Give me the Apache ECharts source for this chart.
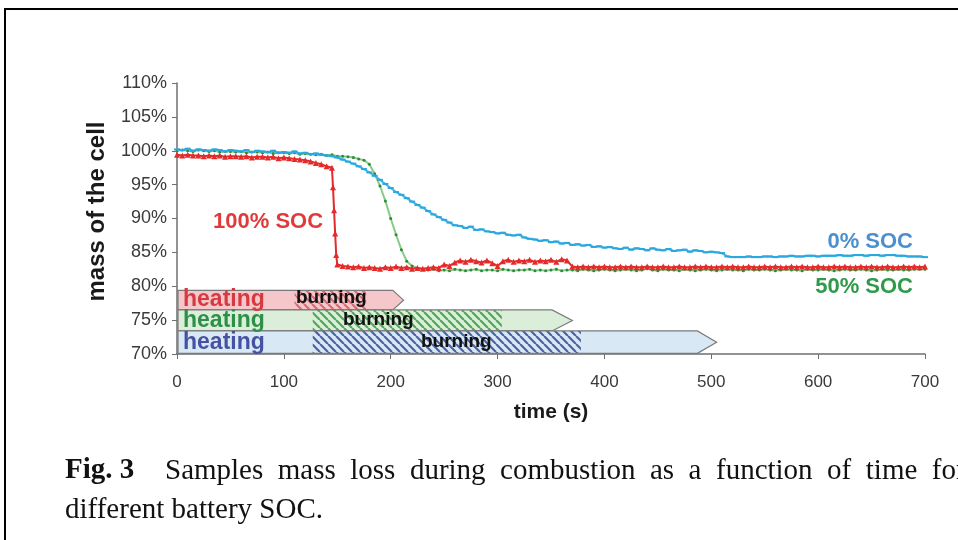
<!DOCTYPE html>
<html><head><meta charset="utf-8">
<script src="https://cdn.jsdelivr.net/npm/echarts@6/dist/echarts.min.js"></script>
<style>html,body{margin:0;padding:0;background:#fff}#c{width:958px;height:540px}</style>
</head><body><div id="c"></div>
<script>
// ---------- data ----------
const timeGrid = [0,5,10,15,20,25,30,35,40,45,50,55,60,65,70,75,80,85,90,95,
100,105,110,115,120,125,130,135,140,145,150,155,160,165,170,175,180,185,190,195,
200,205,210,215,220,225,230,235,240,245,250,255,260,265,270,275,280,285,290,295,
300,305,310,315,320,325,330,335,340,345,350,355,360,365,370,375,380,385,390,395,
400,405,410,415,420,425,430,435,440,445,450,455,460,465,470,475,480,485,490,495,
500,505,510,515,520,525,530,535,540,545,550,555,560,565,570,575,580,585,590,595,
600,605,610,615,620,625,630,635,640,645,650,655,660,665,670,675,680,685,690,695,700];

const soc0Mass = [100.2,100.1,100.3,100.0,100.2,100.1,100.0,100.2,100.1,99.9,
100.1,100.0,99.9,100.1,99.8,100.0,99.9,99.8,100.0,99.7,
99.8,99.7,99.9,99.6,99.7,99.5,99.6,99.4,99.3,99.2,
99.0,98.7,98.4,98.1,97.7,97.3,96.8,96.3,95.7,95.1,
94.5,93.9,93.5,93.0,92.5,92.0,91.6,91.1,90.6,90.2,
89.8,89.4,89.0,88.9,88.6,88.8,88.3,88.4,88.1,88.0,
87.8,87.9,87.6,87.5,87.6,87.2,87.0,86.9,86.7,86.8,
86.5,86.6,86.3,86.4,86.1,86.2,86.0,86.1,85.8,85.9,
85.7,85.8,85.6,85.5,85.7,85.4,85.6,85.5,85.3,85.6,
85.4,85.3,85.5,85.2,85.3,85.4,85.1,85.3,85.2,85.0,
85.1,85.0,84.9,84.4,84.3,84.3,84.3,84.4,84.3,84.3,
84.4,84.4,84.3,84.4,84.4,84.5,84.4,84.4,84.5,84.5,
84.4,84.5,84.5,84.5,84.6,84.5,84.5,84.6,84.6,84.5,
84.6,84.6,84.5,84.6,84.6,84.5,84.5,84.4,84.4,84.4,84.3];

const soc50Mass = [100.0,100.1,100.0,99.9,100.1,100.0,99.9,100.0,99.8,99.9,
99.9,99.8,99.9,99.7,99.8,99.8,99.7,99.8,99.6,99.7,
99.7,99.6,99.7,99.5,99.6,99.5,99.4,99.5,99.3,99.4,
99.2,99.2,99.1,99.0,98.8,98.6,98.0,96.6,94.8,92.6,
90.0,87.6,85.4,83.7,83.0,82.7,82.5,82.4,82.5,82.3,
82.4,82.3,82.5,82.4,82.3,82.4,82.5,82.3,82.4,82.4,
82.3,82.5,82.4,82.3,82.4,82.4,82.5,82.3,82.4,82.3,
82.4,82.5,82.3,82.4,82.4,82.3,82.5,82.4,82.3,82.4,
82.5,82.4,82.3,82.4,82.5,82.4,82.3,82.4,82.6,82.4,
82.3,82.5,82.4,82.4,82.3,82.5,82.4,82.3,82.4,82.5,
82.4,82.3,82.4,82.5,82.4,82.4,82.3,82.5,82.4,82.4,
82.5,82.4,82.3,82.4,82.5,82.4,82.4,82.3,82.5,82.4,
82.4,82.5,82.4,82.3,82.4,82.5,82.4,82.4,82.5,82.4,
82.3,82.4,82.5,82.4,82.4,82.5,82.4,82.4,82.5,82.5,82.5];

const soc100Time = [0,5,10,15,20,25,30,35,40,45,50,55,60,65,70,75,80,85,90,95,
100,105,110,115,120,125,130,135,140,145,146,147,148,149,
150,155,160,165,170,175,180,185,190,195,
200,205,210,215,220,225,230,235,240,245,250,255,260,265,270,275,280,285,290,295,
300,305,310,315,320,325,330,335,340,345,350,355,360,365,370,375,380,385,390,395,
400,405,410,415,420,425,430,435,440,445,450,455,460,465,470,475,480,485,490,495,
500,505,510,515,520,525,530,535,540,545,550,555,560,565,570,575,580,585,590,595,
600,605,610,615,620,625,630,635,640,645,650,655,660,665,670,675,680,685,690,695,700];

const soc100Mass = [99.4,99.3,99.4,99.3,99.3,99.2,99.3,99.2,99.3,99.1,
99.2,99.2,99.1,99.2,99.0,99.1,99.1,99.0,99.1,98.9,
99.0,98.9,98.8,98.7,98.6,98.4,98.2,98.0,97.7,97.5,
94.6,91.2,87.8,84.6,
83.2,83.0,82.9,82.8,82.9,82.7,82.8,82.7,82.6,82.8,
82.7,82.9,82.7,82.8,82.6,82.7,82.6,82.7,82.8,82.7,
83.2,83.0,83.5,83.8,83.6,83.9,83.7,83.5,83.8,83.4,
83.0,83.7,83.9,83.6,83.8,83.7,83.9,83.6,83.8,83.7,
83.9,83.6,84.0,83.8,82.9,82.8,82.9,82.8,82.9,82.8,
82.9,82.8,82.8,82.9,82.8,82.9,82.8,82.8,82.9,82.8,
82.8,82.9,82.8,82.8,82.9,82.8,82.8,82.9,82.8,82.9,
82.8,82.8,82.9,82.8,82.9,82.8,82.8,82.9,82.8,82.8,
82.9,82.8,82.9,82.8,82.8,82.9,82.8,82.9,82.8,82.8,
82.9,82.8,82.8,82.9,82.8,82.9,82.8,82.8,82.9,82.8,
82.9,82.8,82.8,82.9,82.8,82.8,82.9,82.8,82.9,82.8,82.9];

// heating / burning phase bars (one per SOC)
const phaseRows    = ['100% SOC', '50% SOC', '0% SOC'];
const phaseTop     = [79.4, 76.5, 73.4];
const phaseBottom  = [76.5, 73.4, 70.1];
const phaseEnd     = [202, 351, 487];
const phaseTip     = [212, 370, 505];
const burnStart    = [110, 127, 127];
const burnEnd      = [177, 304, 378];

// ---------- styles ----------
const rowFill  = ['#f6c7ca', '#dbeed9', '#d8e9f5'];
const rowHatch = ['#d86b75', '#4fa85a', '#4c62a3'];
function makeHatch(color) {
  const c = document.createElement('canvas');
  c.width = 8; c.height = 8;
  const g = c.getContext('2d');
  g.strokeStyle = color; g.lineWidth = 2.2;
  g.beginPath();
  [-8, 0, 8].forEach(function (x) { g.moveTo(x, 0); g.lineTo(x + 8, 8); });
  g.stroke();
  return c;
}
const hatchPatterns = rowHatch.map(function (c) { return { type: 'pattern', image: makeHatch(c), repeat: 'repeat' }; });

function zip(a, b) { return a.map(function (v, i) { return [v, b[i]]; }); }

const chart = echarts.init(document.getElementById('c'), null, { renderer: 'canvas' });
const SANS = 'Liberation Sans, Arial, sans-serif';
const SERIF = 'Liberation Serif, Times New Roman, serif';

chart.setOption({
  animation: false,
  backgroundColor: '#ffffff',
  grid: { left: 177, right: 33, top: 83, bottom: 186, containLabel: false },
  xAxis: {
    type: 'value', min: 0, max: 700, interval: 100,
    name: 'time (s)', nameLocation: 'middle', nameGap: 48,
    nameTextStyle: { fontFamily: SANS, fontWeight: 'bold', fontSize: 21, color: '#1a1a1a' },
    axisLine: { show: true, onZero: false, lineStyle: { color: '#6f6f6f', width: 1.5 } },
    axisTick: { show: true, length: 5, lineStyle: { color: '#6f6f6f' } },
    axisLabel: { fontFamily: SANS, fontSize: 17, color: '#3a3a3a', margin: 20 },
    splitLine: { show: false }
  },
  yAxis: {
    type: 'value', min: 70, max: 110, interval: 5,
    name: 'mass of the cell', nameLocation: 'middle', nameGap: 68,
    nameTextStyle: { fontFamily: SANS, fontWeight: 'bold', fontSize: 24, color: '#1a1a1a', padding: [0, 0, 0, 14] },
    axisLine: { show: true, lineStyle: { color: '#6f6f6f', width: 1.5 } },
    axisTick: { show: true, length: 5, lineStyle: { color: '#6f6f6f' } },
    axisLabel: { fontFamily: SANS, fontSize: 18, color: '#3a3a3a', margin: 10, formatter: '{value}%' },
    splitLine: { show: false }
  },
  series: [
    {
      type: 'custom', name: 'phases', coordinateSystem: 'cartesian2d', clip: false, z: 1,
      data: phaseRows.map(function (n, i) {
        return [phaseEnd[i], phaseTip[i], phaseTop[i], phaseBottom[i], burnStart[i], burnEnd[i], i];
      }),
      encode: { x: [0, 1], y: [2, 3] },
      renderItem: function (params, api) {
        const i = api.value(6);
        const top = api.value(2), bot = api.value(3), mid = (top + bot) / 2;
        const p0t = api.coord([0, top]), p0b = api.coord([0, bot]);
        const pet = api.coord([api.value(0), top]), peb = api.coord([api.value(0), bot]);
        const ptip = api.coord([api.value(1), mid]);
        const bs = api.coord([api.value(4), top]), be = api.coord([api.value(5), bot]);
        const pts = [[p0t[0] + 1, p0t[1]], pet, ptip, peb, [p0b[0] + 1, p0b[1]]];
        return {
          type: 'group',
          children: [
            { type: 'polygon', shape: { points: pts }, style: { fill: rowFill[i], stroke: null } },
            { type: 'rect', shape: { x: bs[0], y: bs[1], width: be[0] - bs[0], height: be[1] - bs[1] },
              style: { fill: hatchPatterns[i] } },
            { type: 'polygon', shape: { points: pts }, style: { fill: null, stroke: '#7a7a7a', lineWidth: 1.2 } }
          ]
        };
      }
    },
    {
      type: 'line', name: '50% SOC', data: zip(timeGrid, soc50Mass), z: 3,
      lineStyle: { color: '#86cc86', width: 2 },
      symbol: 'circle', symbolSize: 3, showAllSymbol: true,
      itemStyle: { color: '#2e8b3e', borderWidth: 0 }
    },
    {
      type: 'line', name: '100% SOC', data: zip(soc100Time, soc100Mass), z: 4,
      lineStyle: { color: '#e42a2a', width: 2 },
      symbol: 'triangle', symbolSize: 6, showAllSymbol: true,
      itemStyle: { color: '#e42a2a', borderWidth: 0 }
    },
    {
      type: 'line', name: '0% SOC', data: zip(timeGrid, soc0Mass), z: 5,
      lineStyle: { color: '#45b6e6', width: 2 },
      symbol: 'rect', symbolSize: [6, 2], showAllSymbol: true,
      itemStyle: { color: '#2aa7df', borderWidth: 0 }
    }
  ],
  graphic: [
    { type: 'rect', shape: { x: 5, y: 9, width: 990, height: 560 }, z: 100,
      style: { fill: null, stroke: '#000', lineWidth: 2 } },
    { type: 'text', x: 213, y: 222, z: 50, style: { text: '100% SOC', font: 'bold 22px ' + SANS, fill: '#e03a3a', verticalAlign: 'middle' } },
    { type: 'text', x: 913, y: 242, z: 50, style: { text: '0% SOC', font: 'bold 22px ' + SANS, fill: '#4a8fd0', align: 'right', verticalAlign: 'middle' } },
    { type: 'text', x: 913, y: 287, z: 50, style: { text: '50% SOC', font: 'bold 22px ' + SANS, fill: '#2f9a48', align: 'right', verticalAlign: 'middle' } },
    { type: 'text', x: 183, y: 300, z: 50, style: { text: 'heating', font: 'bold 23px ' + SANS, fill: '#d53a40', verticalAlign: 'middle' } },
    { type: 'text', x: 183, y: 321, z: 50, style: { text: 'heating', font: 'bold 23px ' + SANS, fill: '#2e9048', verticalAlign: 'middle' } },
    { type: 'text', x: 183, y: 343, z: 50, style: { text: 'heating', font: 'bold 23px ' + SANS, fill: '#4552a3', verticalAlign: 'middle' } },
    { type: 'text', x: 296, y: 298, z: 50, style: { text: 'burning', font: 'bold 19px ' + SANS, fill: '#111', verticalAlign: 'middle' } },
    { type: 'text', x: 343, y: 320, z: 50, style: { text: 'burning', font: 'bold 19px ' + SANS, fill: '#111', verticalAlign: 'middle' } },
    { type: 'text', x: 421, y: 342, z: 50, style: { text: 'burning', font: 'bold 19px ' + SANS, fill: '#111', verticalAlign: 'middle' } },
    { type: 'text', x: 65, y: 471, z: 50, style: { text: 'Fig. 3', font: 'bold 29px ' + SERIF, fill: '#111', verticalAlign: 'middle' } },
    { type: 'text', x: 165, y: 471, z: 50, style: { text: 'Samples  mass  loss  during  combustion  as  a  function  of  time  for', font: '29px ' + SERIF, fill: '#111', verticalAlign: 'middle' } },
    { type: 'text', x: 65, y: 510, z: 50, style: { text: 'different battery SOC.', font: '29px ' + SERIF, fill: '#111', verticalAlign: 'middle' } }
  ]
});
</script>
</body></html>
